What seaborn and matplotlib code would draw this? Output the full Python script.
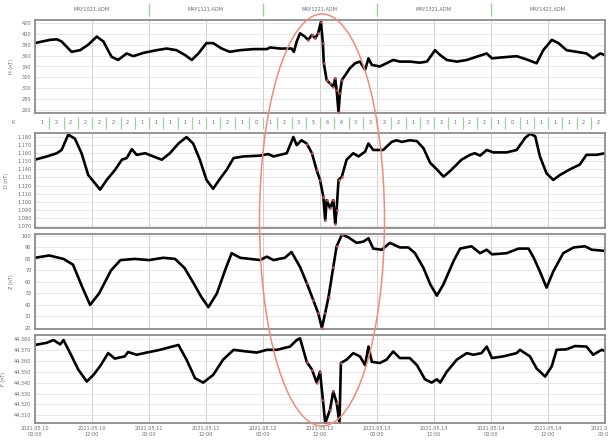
import numpy as np
import pandas as pd
import seaborn as sns
import matplotlib.pyplot as plt
from matplotlib.patches import Ellipse

# day files and tick labels
day_files = ["MAY1021.ADM", "MAY1121.ADM", "MAY1221.ADM", "MAY1321.ADM", "MAY1421.ADM"]
tick_hours = list(range(0, 121, 12))
tick_labels = ["2021.05.10\n00:00", "2021.05.10\n12:00", "2021.05.11\n00:00", "2021.05.11\n12:00",
               "2021.05.12\n00:00", "2021.05.12\n12:00", "2021.05.13\n00:00", "2021.05.13\n12:00",
               "2021.05.14\n00:00", "2021.05.14\n12:00", "2021.05.15\n00:00"]

# K index, 3-hour intervals
k_index = [1, 2, 2, 2, 2, 2, 2, 1,
           1, 1, 1, 1, 1, 2, 1, 0,
           1, 2, 3, 5, 6, 6, 3, 3,
           2, 2, 1, 3, 3, 1, 2, 2,
           1, 0, 1, 1, 1, 1, 2, 2]

# H component (hours since 2021.05.10 00:00)
h_hours = [0, 1.5, 3.2, 4.6, 5.6, 6.7, 7.7, 9.5, 11.2, 13, 14.4, 16.1, 17.5, 19.3, 20.7, 22.8,
           25.6, 27.7, 29.8, 31.6, 33, 34.4, 36.1, 37.5, 39.3, 41, 43.2, 46, 48.8, 49.5, 51.6,
           54, 54.5, 55.1, 55.8, 56.8, 57.5, 58.3, 59, 59.6, 60.2, 60.6, 60.8, 61.4, 62.1, 62.8,
           63.2, 63.5, 63.9, 64.2, 64.6, 65.3, 66.3, 67.4, 68.4, 69.5, 70.2, 70.9, 72.6, 74, 75.4,
           76.8, 79, 81, 82.5, 83.5, 84.2, 85.3, 86.7, 88.8, 90.9, 93, 95.1, 96.2, 98.6, 101.4,
           103.5, 105.6, 107, 108.8, 110.2, 111.9, 114, 116.1, 117.5, 119, 120]
h_values = [383, 386, 389, 390, 386, 376, 367, 370, 380, 395, 386, 358, 352, 364, 359, 365,
            370, 373, 370, 361, 352, 364, 383, 383, 373, 367, 370, 372, 372, 375, 373,
            373, 367, 386, 401, 395, 389, 398, 392, 401, 422, 383, 346, 315, 309, 303,
            318, 297, 256, 291, 315, 324, 337, 346, 349, 334, 355, 343, 340, 346, 352,
            349, 349, 347, 349, 361, 370, 361, 352, 349, 352, 358, 364, 355, 357, 359,
            353, 346, 370, 389, 383, 370, 367, 364, 355, 364, 361]

# D component
d_hours = [0, 2.5, 4.6, 5.6, 7, 8.4, 9.8, 11.2, 12.6, 13.7, 15.1, 16.8, 18.3, 19.3, 20.4, 21.4,
           23.2, 24.9, 26.7, 28.4, 30.2, 31.9, 33.3, 34.7, 36.1, 37.5, 38.9, 40.4, 41.8, 43.9,
           47.4, 49.1, 50.2, 53, 54.4, 55.1, 56.1, 57.2, 58.3, 59.3, 60, 60.7, 61.1, 61.4, 62.1,
           62.8, 63.2, 63.5, 63.9, 64.6, 65.6, 67, 68.1, 69.5, 70.2, 71.2, 73.3, 75.1, 76.1, 77.2,
           78.9, 80.4, 81.8, 83.2, 84.6, 86, 87.4, 89.8, 91.6, 92.6, 93.7, 95.1, 96.5, 99.3, 101.4,
           103.2, 104.2, 105.3, 106.3, 107.7, 109.1, 110.5, 112.6, 114.7, 116.1, 118.2, 120]
d_values = [1152, 1156, 1160, 1164, 1183, 1178, 1160, 1133, 1123, 1115, 1127, 1139, 1152, 1154, 1165, 1158,
            1160, 1156, 1152, 1160, 1172, 1180, 1172, 1152, 1127, 1116, 1128, 1140, 1154, 1156,
            1157, 1159, 1156, 1160, 1180, 1170, 1176, 1172, 1160, 1139, 1127, 1106, 1077, 1102, 1092,
            1102, 1073, 1090, 1127, 1131, 1152, 1160, 1156, 1162, 1172, 1164, 1164, 1174, 1176, 1174,
            1176, 1175, 1166, 1148, 1140, 1131, 1138, 1152, 1158, 1160, 1157, 1164, 1161, 1161, 1164,
            1179, 1184, 1181, 1156, 1135, 1127, 1133, 1140, 1146, 1158, 1158, 1160]

# Z component
z_hours = [0, 3, 6, 8, 10, 11.6, 13.5, 16, 18, 21, 24, 27, 29.5, 31.5, 33.5, 35, 36.5, 38.3, 40,
           41.4, 43.2, 47.4, 48.8, 50.2, 52.6, 54, 55.8, 57.2, 58.6, 59.6, 60.4, 61.1, 61.8, 62.8,
           63.5, 64.6, 65.9, 67.7, 69.1, 70.2, 71.2, 73, 74.7, 76.8, 78.6, 80, 81.8, 83.2, 84.6,
           86, 88.1, 89.5, 91.9, 93.7, 95.1, 96.2, 99.3, 101.8, 103.9, 105, 106.3, 107.7, 109.1,
           111.2, 113.4, 115.8, 117.2, 120]
z_values = [81, 83, 80, 75, 55, 40, 50, 70, 79, 80, 79, 81, 80, 72, 58, 47, 38, 50, 70,
            85, 81, 79, 82, 79, 81, 86, 73, 59, 44, 33, 20, 33, 47, 73,
            91, 101, 99, 94, 95, 98, 89, 88, 94, 90, 90, 85, 72, 58, 48,
            58, 78, 89, 91, 85, 88, 84, 85, 89, 89, 81, 69, 55, 69,
            85, 90, 91, 88, 87]

# F total field
f_hours = [0, 2.5, 3.9, 5.3, 6, 7.4, 9.1, 10.9, 12.3, 13.7, 15.4, 16.8, 18.9, 19.6, 21.4, 23.5,
           26.3, 30.2, 31.9, 33.7, 35.4, 37.5, 39.6, 41.8, 44.6, 46.7, 48.8, 50.9, 53.7, 55.1,
           55.8, 57.2, 58.3, 59.3, 60, 60.6, 61.1, 62.1, 62.8, 63.5, 64.1, 64.4, 65.6, 67, 68.4,
           69.5, 70.2, 70.9, 72.6, 74, 75.4, 76.8, 78.9, 80.4, 82.1, 83.5, 84.6, 85.3, 86.7,
           88.8, 90.9, 92.3, 94, 95.1, 96.2, 98.6, 101.4, 102.1, 104.2, 105.6, 107.4, 108.8,
           109.8, 111.9, 113.7, 116.1, 117.5, 119.3, 120]
f_values = [44374.5, 44376.5, 44379, 44375, 44379, 44367, 44352, 44341, 44347, 44355, 44367, 44362,
            44364, 44368, 44365.5, 44367.5, 44370, 44374.5, 44361, 44344, 44340, 44347, 44361, 44370,
            44368.5, 44367.5, 44370, 44370, 44373, 44379, 44380.5, 44359, 44352, 44340, 44350,
            44324.5, 44303, 44315, 44332, 44321.5, 44303, 44358, 44361, 44367, 44364, 44356, 44373,
            44359, 44358, 44361, 44368.5, 44362.5, 44362.5, 44356, 44343, 44340, 44343, 44340,
            44350, 44361, 44367, 44365.5, 44367, 44373, 44362.5, 44364, 44367, 44370, 44364,
            44353, 44345.5, 44355, 44370, 44370.5, 44373.5, 44373, 44365.5, 44370, 44369]

sns.set_theme(style="whitegrid")
plt.rcParams['font.family'] = ['DejaVu Sans']

W, H = 608, 440
fig = plt.figure(figsize=(W / 100, H / 100), dpi=100)
fig.patch.set_facecolor("white")


def add_ax(top, bottom):
    return fig.add_axes([35 / W, 1 - bottom / H, 570 / W, (bottom - top) / H])


frame = "#8c8c8c"
txt = "#6a6a6a"

panels = [
    ("H (nT)", h_hours, h_values, 20, 113, (254.5, 425.5), list(range(260, 421, 20)), "{:.0f}"),
    ("D (nT)", d_hours, d_values, 133, 228, (1067.5, 1185), list(range(1070, 1181, 10)), "thou"),
    ("Z (nT)", z_hours, z_values, 234, 329, (19, 101.7), list(range(20, 101, 10)), "{:.0f}"),
    ("F (nT)", f_hours, f_values, 335, 423, (44303, 44383.6), list(range(44310, 44381, 10)), "thou"),
]

for i, (name, hrs, vals, top, bottom, ylim, yticks, fmt) in enumerate(panels):
    ax = add_ax(top, bottom)
    df = pd.DataFrame({"hour": hrs, "value": vals})
    sns.lineplot(data=df, x="hour", y="value", ax=ax, color="black", linewidth=1.9,
                 estimator=None, sort=False)
    storm = df[(df.hour > 57) & (df.hour < 65)]
    sns.scatterplot(data=storm, x="hour", y="value", ax=ax, color="#d9534f", s=3,
                    edgecolor=None, zorder=5)
    ax.set_xlim(0, 120)
    ax.set_ylim(*ylim)
    ax.set_yticks(yticks)
    if fmt == "thou":
        ax.set_yticklabels(["{:,}".format(v).replace(",", ".") for v in yticks])
    else:
        ax.set_yticklabels([fmt.format(v) for v in yticks])
    ax.set_xticks(tick_hours)
    if i == len(panels) - 1:
        ax.set_xticklabels(tick_labels)
    else:
        ax.set_xticklabels([])
    ax.set_xlabel("")
    ax.set_ylabel(name, fontsize=3.5, color=txt, labelpad=6)
    ax.tick_params(axis="both", labelsize=3.6, colors=txt, length=0, pad=2.5)
    ax.grid(axis="y", color="#e3e3e3", linewidth=0.6)
    ax.grid(axis="x", color="#cfcfcf", linewidth=0.7)
    for s in ax.spines.values():
        s.set_visible(True)
        s.set_color(frame)
        s.set_linewidth(1.3)

# K index row
kax = add_ax(113, 133)
kax.set_xlim(0, 120)
kax.set_ylim(0, 1)
kax.axis("off")
k_df = pd.DataFrame({"hour": np.arange(len(k_index)) * 3 + 1.5, "k": k_index})
for _, row in k_df.iterrows():
    kax.text(row.hour, 0.5, str(int(row.k)), ha="center", va="center", fontsize=3.6, color=txt)
kax.vlines(np.arange(3, 120, 3), 0.2, 0.8, color="#9ad39a", linewidth=0.9)
kax.text(-4.7, 0.5, "K", ha="center", va="center", fontsize=3.6, color=txt)

# header with day files
hax = add_ax(0, 19)
hax.set_xlim(0, 120)
hax.set_ylim(0, 1)
hax.axis("off")
for d, name in enumerate(day_files):
    hax.text(d * 24 + 12, 0.5, name, ha="center", va="center", fontsize=3.6, color=txt)
hax.vlines([24, 48, 72, 96], 0.15, 0.85, color="#9ad39a", linewidth=1.0)

# highlight the storm
fig.add_artist(Ellipse((322 / W, 1 - 220 / H), 125 / W, 412 / H, transform=fig.transFigure,
                       fill=False, edgecolor="#f08a7a", linewidth=1.1))

fig.savefig("out.png", dpi=100)
